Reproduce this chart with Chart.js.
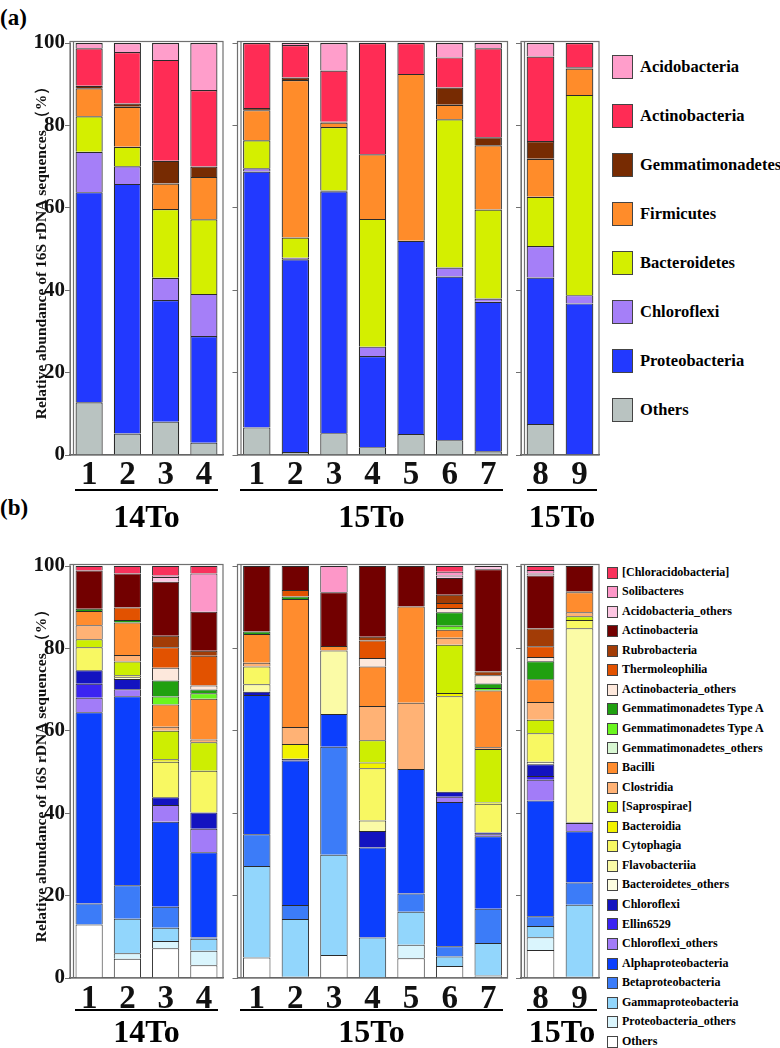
<!DOCTYPE html>
<html>
<head>
<meta charset="utf-8">
<script src="https://cdn.jsdelivr.net/npm/chart.js@4/dist/chart.umd.min.js"></script>
<style>
  body { margin: 0; background: #fff; width: 780px; height: 1048px; position: relative; overflow: hidden;
         font-family: 'Liberation Serif', 'Times New Roman', serif; font-weight: bold; color: #000; }
  canvas { position: absolute; }
  .tag { position: absolute; left: 0; font-size: 23px; line-height: 1; }
  .gline { position: absolute; height: 0; border-top: 2.5px solid #000; }
  .gname { position: absolute; font-size: 32px; line-height: 32px; text-align: center; }
  .leg { position: absolute; white-space: nowrap; }
  .leg i { position: absolute; left: 0; box-sizing: border-box; border: 1px solid #444; }
  .leg span { position: absolute; }
</style>
</head>
<body>
<div class="tag" style="top:6px">(a)</div>
<div class="tag" style="top:496px">(b)</div>
<div id="legA"></div>
<div id="legB"></div>
<script>
// ---- samples / groups ----
const samples14 = ['1', '2', '3', '4'];
const samples15 = ['1', '2', '3', '4', '5', '6', '7'];
const samples15b = ['8', '9'];
const groupNames = ['14To', '15To', '15To'];

// ---- (a) phylum level, 13 samples: 14To 1-4, 15To 1-7, 15To 8-9 ----
const aOthers        = [12.8, 5.2, 8.1, 3.0,  6.7, 0.7, 5.3, 1.9, 5.1, 3.6, 0.9,  7.5, null];
const aProteo        = [51.0, 60.6, 29.5, 25.9, 62.1, 46.8, 58.7, 22.1, 46.9, 39.7, 36.3, 35.6, 36.8];
const aChloroflexi   = [9.8, 4.3, 5.4, 10.2,  0.8, 0.4, 0.2, 2.3, null, 2.2, 0.8,  7.6, 2.0];
const aBacteroidetes = [8.6, 4.7, 16.7, 18.1, 6.8, 4.9, 15.4, 31.0, null, 36.0, 21.6, 12.0, 48.6];
const aFirmicutes    = [6.8, 9.7, 6.2, 10.3,  7.3, 38.2, 1.1, 15.7, 40.5, 3.5, 15.6,  9.2, 6.4];
const aGemma         = [0.6, 0.8, 5.5, 2.5,   0.5, 0.6, 0.2, null, null, 4.2, 1.9,  4.3, 0.3];
const aActino        = [9.1, 12.5, 24.5, 18.6, 15.8, 7.9, 12.4, 27.0, 7.5, 7.3, 21.6, 20.5, 5.9];
const aAcido         = [1.3, 2.2, 4.1, 11.4,  null, 0.5, 6.7, null, null, 3.5, 1.3,  3.3, null];

// ---- (b) class level, same 13 samples ----
const bOthers        = [13.0, 4.7, 7.2, 3.1,  5.0, 0.3, 5.6, null, 4.8, 2.9, 0.3,  6.8, 0.3];
const bProteoOthers  = [null, 1.3, 1.8, 3.5,  null, null, null, null, 3.3, null, 0.3, 3.1, null];
const bGamma         = [null, 8.4, 3.2, 2.9,  22.2, 14.0, 24.3, 9.8, 8.0, 2.3, 7.9,  2.7, 17.5];
const bBeta          = [5.1, 8.1, 5.1, 0.3,   7.7, 3.4, 26.2, null, 4.4, 2.5, 8.3,  2.4, 5.4];
const bAlpha         = [46.4, 45.9, 20.6, 20.7, 33.8, 35.1, 8.0, 21.9, 30.2, 35.0, 17.6, 28.1, 12.4];
const bChlOthers     = [3.5, 1.7, 4.1, 5.7,   null, null, null, null, null, 1.3, 0.5,  5.0, 2.0];
const bEllin         = [3.4, null, null, null, null, null, null, null, null, null, null, 0.9, null];
const bChloroflexi   = [3.3, 2.5, 1.9, 4.0,   0.8, 0.4, null, 4.0, null, 1.2, 0.4,  2.9, null];
const bBactOthers    = [null, 0.4, null, null, null, null, null, null, null, null, null, 0.6, 0.2];
const bFlavo         = [null, null, null, null, 1.8, null, 15.4, 2.5, null, null, null, null, 47.1];
const bCytophagia    = [5.6, 0.5, 8.6, 10.1,  4.3, null, null, 12.7, null, 23.2, 7.0, 6.9, 2.0];
const bBacteroidia   = [null, null, 0.6, null, null, 3.6, null, 1.4, null, 0.8, 0.3,  null, null];
const bSaprospirae   = [1.9, 3.3, 6.9, 6.9,   null, null, null, 5.4, null, 11.7, 13.0, 3.3, 0.9];
const bClostridia    = [3.4, 1.6, 1.0, 0.7,   0.9, 4.1, null, 8.3, 16.1, 1.7, 0.4,  4.3, 1.0];
const bBacilli       = [3.5, 7.9, 5.4, 9.9,   7.0, 31.1, 1.1, 9.6, 23.4, 1.9, 13.8, 5.5, 4.8];
const bGemOthers     = [null, null, null, null, null, null, null, null, null, null, null, null, null];
const bGemALight     = [null, null, 1.9, 1.3, null, null, null, null, null, 1.0, 0.6,  null, null];
const bGemADark      = [0.5, 0.6, 3.9, 0.9,   0.6, 0.6, null, null, null, 3.3, 1.1,  4.4, null];
const bActOthers     = [null, null, 3.1, 1.0, null, null, null, 2.1, null, 1.0, 2.0,  1.0, null];
const bThermo        = [null, 3.0, 5.0, 7.2,  null, 1.6, null, 4.2, null, 1.2, null,  2.6, 0.3];
const bRubro         = [null, null, 2.8, 1.2, null, null, null, 0.9, null, 2.0, 0.9,  4.3, null];
const bActino        = [9.3, 8.3, 13.1, 9.5,  15.9, 5.8, 13.0, 17.2, 9.8, 4.1, 24.8, 12.9, 6.1];
const bAcidoOthers   = [null, null, 1.1, null, null, null, null, null, null, 0.6, 0.8, 0.5, null];
const bSolibacteres  = [null, null, 0.4, 9.3, null, null, 6.4, null, null, 0.9, null,  0.8, null];
const bChloracido    = [1.1, 1.8, 2.3, 1.8,   null, null, null, null, null, 1.4, null,  1.0, null];

const FONT = "'Liberation Serif', 'Times New Roman', serif";
const yTitle = 'Relative abundance of 16S rDNA sequences （%）';

// stacking order: first = bottom
const seriesA = [
  { label: 'Others', color: '#b9c3c1', data: aOthers },
  { label: 'Proteobacteria', color: '#2239ff', data: aProteo },
  { label: 'Chloroflexi', color: '#a57ff8', data: aChloroflexi },
  { label: 'Bacteroidetes', color: '#d4ef00', data: aBacteroidetes },
  { label: 'Firmicutes', color: '#ff8c2a', data: aFirmicutes },
  { label: 'Gemmatimonadetes', color: '#772b02', data: aGemma },
  { label: 'Actinobacteria', color: '#ff2c55', data: aActino },
  { label: 'Acidobacteria', color: '#ff9ecb', data: aAcido },
];
const seriesB = [
  { label: 'Others', color: '#ffffff', data: bOthers },
  { label: 'Proteobacteria_others', color: '#daf5fd', data: bProteoOthers },
  { label: 'Gammaproteobacteria', color: '#92d6fc', data: bGamma },
  { label: 'Betaproteobacteria', color: '#3c7cf8', data: bBeta },
  { label: 'Alphaproteobacteria', color: '#0c3ffd', data: bAlpha },
  { label: 'Chloroflexi_others', color: '#a27cf8', data: bChlOthers },
  { label: 'Ellin6529', color: '#3b24f2', data: bEllin },
  { label: 'Chloroflexi', color: '#1313c0', data: bChloroflexi },
  { label: 'Bacteroidetes_others', color: '#fdfde0', data: bBactOthers },
  { label: 'Flavobacteriia', color: '#fbfba6', data: bFlavo },
  { label: 'Cytophagia', color: '#f8f862', data: bCytophagia },
  { label: 'Bacteroidia', color: '#f2f200', data: bBacteroidia },
  { label: '[Saprospirae]', color: '#cdee02', data: bSaprospirae },
  { label: 'Clostridia', color: '#ffb275', data: bClostridia },
  { label: 'Bacilli', color: '#ff8c2e', data: bBacilli },
  { label: 'Gemmatimonadetes_others', color: '#d8f7d2', data: bGemOthers },
  { label: 'Gemmatimonadetes Type A', color: '#6af51e', data: bGemALight },
  { label: 'Gemmatimonadetes Type A', color: '#20a010', data: bGemADark },
  { label: 'Actinobacteria_others', color: '#fde8dc', data: bActOthers },
  { label: 'Thermoleophilia', color: '#e25200', data: bThermo },
  { label: 'Rubrobacteria', color: '#a23c06', data: bRubro },
  { label: 'Actinobacteria', color: '#720000', data: bActino },
  { label: 'Acidobacteria_others', color: '#fcc6e2', data: bAcidoOthers },
  { label: 'Solibacteres', color: '#fd97c8', data: bSolibacteres },
  { label: '[Chloracidobacteria]', color: '#f8325c', data: bChloracido },
];

// box geometry (layout only)
const boxes = [
  { labels: samples14, from: 0, to: 4, left: 0, width: 226, axisW: 70, padRight: 3, lineX: 75, lineW: 143 },
  { labels: samples15, from: 4, to: 11, left: 226, width: 284, axisW: 11.5, padRight: 2.5, lineX: 240, lineW: 263 },
  { labels: samples15b, from: 11, to: 13, left: 510, width: 92, axisW: 11, padRight: 3, lineX: 527, lineW: 70 },
];

const framePlugin = {
  id: 'frame',
  afterDatasetsDraw(chart) {
    const { ctx, chartArea: a } = chart;
    ctx.save();
    ctx.strokeStyle = '#707070';
    ctx.lineWidth = 1.2;
    ctx.strokeRect(a.left, a.top - 1.5, a.right - a.left, a.bottom - a.top + 1.5);
    ctx.beginPath();
    ctx.moveTo(a.left + 3.5, a.top - 1.5);
    ctx.lineTo(a.left + 3.5, a.bottom);
    ctx.stroke();
    ctx.restore();
  }
};

function makeBox(box, idx, series, top, panel) {
  const cv = document.createElement('canvas');
  cv.width = box.width; cv.height = 470;
  cv.style.left = box.left + 'px'; cv.style.top = top + 'px';
  document.body.appendChild(cv);
  const first = idx === 0;
  new Chart(cv.getContext('2d'), {
    type: 'bar',
    data: {
      labels: box.labels,
      datasets: series.map(s => ({
        label: s.label,
        data: s.data.slice(box.from, box.to),
        backgroundColor: s.color,
        borderColor: '#2a2a2a',
        borderWidth: panel === 'a' ? 1.2 : 1,
        barPercentage: 0.71,
        categoryPercentage: 1,
      })),
    },
    options: {
      responsive: false,
      animation: false,
      devicePixelRatio: 1,
      layout: { padding: { top: 13, right: box.padRight, left: 0, bottom: 0 } },
      plugins: { legend: { display: false }, tooltip: { enabled: false } },
      scales: {
        x: {
          stacked: true,
          grid: { display: false },
          border: { display: true, color: '#555', width: 1.2 },
          ticks: { color: '#111', autoSkip: false, maxRotation: 0, padding: panel === 'a' ? -7 : -6,
                   font: { family: FONT, size: 33, weight: 'bold' } },
          afterFit(s) { s.height = 45; },
        },
        y: {
          stacked: true, min: 0, max: 100,
          grid: { drawOnChartArea: false, drawTicks: true, tickLength: 5, color: '#707070' },
          border: { display: true, color: '#707070' },
          ticks: { stepSize: 20, display: first, color: '#111', padding: 0,
                   font: { family: FONT, size: 21, weight: 'bold' } },
          title: { display: first, text: yTitle, color: '#111', padding: { top: 33 },
                   font: { family: FONT, size: 15.5, weight: 'bold' } },
          afterFit(s) { s.width = box.axisW; },
        },
      },
    },
    plugins: [framePlugin],
  });
}

function groupLabels(lineY, nameY) {
  boxes.forEach((b, i) => {
    const ln = document.createElement('div');
    ln.className = 'gline';
    ln.style.left = b.lineX + 'px'; ln.style.width = b.lineW + 'px'; ln.style.top = lineY + 'px';
    document.body.appendChild(ln);
    const nm = document.createElement('div');
    nm.className = 'gname';
    nm.style.left = (b.lineX - 20) + 'px'; nm.style.width = (b.lineW + 40) + 'px';
    nm.style.top = (nameY - 16) + 'px';
    nm.textContent = groupNames[i];
    document.body.appendChild(nm);
  });
}

function legend(el, series, opt) {
  const items = series.slice().reverse();
  el.innerHTML = items.map((s, i) => {
    const cy = opt.y0 + i * opt.dy;
    return `<div class="leg" style="left:${opt.x}px;top:${cy - opt.sh / 2}px;height:${opt.sh}px">` +
      `<i style="width:${opt.sw}px;height:${opt.sh}px;background:${s.color}"></i>` +
      `<span style="left:${opt.tx}px;top:${(opt.sh - opt.fs * 1.15) / 2}px;font-size:${opt.fs}px;line-height:${opt.fs * 1.15}px">${s.label}</span></div>`;
  }).join('');
}

boxes.forEach((b, i) => makeBox(b, i, seriesA, 30, 'a'));
boxes.forEach((b, i) => makeBox(b, i, seriesB, 553, 'b'));
groupLabels(489, 516);
groupLabels(1009, 1031);
legend(document.getElementById('legA'), seriesA, { x: 612, y0: 67, dy: 49, sw: 21, sh: 24, tx: 28, fs: 16.5 });
legend(document.getElementById('legB'), seriesB, { x: 607, y0: 572.5, dy: 19.55, sw: 11, sh: 12, tx: 15, fs: 12 });
</script>
</body>
</html>
